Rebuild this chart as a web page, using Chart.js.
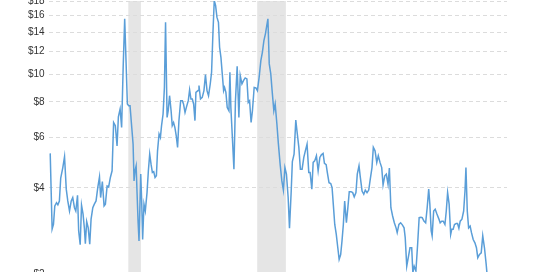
<!DOCTYPE html>
<html>
<head>
<meta charset="utf-8">
<script src="https://cdn.jsdelivr.net/npm/chart.js@4.4.1/dist/chart.umd.min.js"></script>
<style>
html,body{margin:0;padding:0;background:#fff;overflow:hidden;}
#wrap{position:absolute;left:0;top:-9px;width:540px;height:293px;}
</style>
</head>
<body>
<div id="wrap"><canvas id="canvas"></canvas></div>
<script>
// natural gas price (inflation adjusted)
const years=[1997.08,1997.18,1997.25,1997.32,1997.41,1997.48,1997.56,1997.63,1997.74,1997.83,1997.92,
1998.00,1998.09,1998.18,1998.26,1998.35,1998.42,1998.51,1998.57,1998.65,1998.72,1998.80,1998.87,1998.92,1998.99,
1999.07,1999.15,1999.22,1999.31,1999.39,1999.48,1999.57,1999.66,1999.72,1999.81,1999.90,1999.97,
2000.06,2000.14,2000.23,2000.32,2000.40,2000.49,2000.58,2000.65,2000.74,2000.82,2000.90,2000.98,
2001.05,2001.12,2001.19,2001.26,2001.35,2001.42,2001.47,2001.52,2001.58,2001.63,2001.68,2001.73,2001.82,2001.87,2001.92,2001.99,
2002.06,2002.15,2002.22,2002.29,2002.36,2002.43,2002.50,2002.57,2002.64,2002.70,2002.78,2002.85,2002.91,2002.99,
2003.06,2003.12,2003.20,2003.26,2003.33,2003.41,2003.47,2003.54,2003.61,2003.68,2003.75,2003.82,2003.91,
2004.00,2004.06,2004.14,2004.22,2004.31,2004.38,2004.45,2004.52,2004.59,2004.66,2004.71,2004.82,2004.87,2004.95,
2005.04,2005.13,2005.21,2005.29,2005.37,2005.46,2005.53,2005.60,2005.67,2005.74,2005.81,2005.89,2005.95,
2006.02,2006.09,2006.16,2006.21,2006.28,2006.35,2006.44,2006.49,2006.54,2006.61,2006.70,2006.78,2006.87,2006.96,
2007.03,2007.12,2007.20,2007.29,2007.38,2007.45,2007.52,2007.60,2007.67,2007.76,2007.85,2007.93,
2008.02,2008.11,2008.19,2008.27,2008.35,2008.42,2008.48,2008.55,2008.63,2008.70,2008.79,2008.86,2008.95,
2009.03,2009.12,2009.21,2009.29,2009.37,2009.45,2009.54,2009.61,2009.70,2009.76,2009.85,2009.94,
2010.02,2010.10,2010.18,2010.27,2010.36,2010.44,2010.53,2010.62,2010.69,2010.78,2010.85,2010.93,
2011.02,2011.11,2011.20,2011.28,2011.37,2011.44,2011.53,2011.59,2011.68,2011.77,2011.84,2011.91,2011.98,
2012.06,2012.14,2012.21,2012.29,2012.36,2012.43,2012.50,2012.59,2012.66,2012.74,2012.83,2012.92,
2013.00,2013.09,2013.16,2013.25,2013.32,2013.41,2013.50,2013.58,2013.67,2013.76,2013.84,2013.93,
2014.00,2014.09,2014.18,2014.26,2014.35,2014.44,2014.51,2014.60,2014.68,2014.77,2014.84,2014.92,
2015.01,2015.10,2015.19,2015.25,2015.34,2015.43,2015.52,2015.61,2015.67,2015.75,2015.83,2015.92,
2016.01,2016.07,2016.14,2016.23,2016.32,2016.40,2016.49,2016.56,2016.65,2016.74,2016.82,2016.90,2016.96,
2017.03,2017.08,2017.16,2017.24,2017.33,2017.42,2017.50,2017.58,2017.66,2017.75,2017.82,2017.89,2017.97,
2018.05,2018.11,2018.18,2018.25,2018.34,2018.41,2018.48,2018.55,2018.64,2018.73,2018.80,2018.85,2018.92,2018.99,
2019.07,2019.14,2019.23,2019.32,2019.40,2019.47,2019.56,2019.65,2019.73,2019.82,2019.91,2019.96];
const prices=[5.28,2.87,2.98,3.46,3.55,3.49,3.60,4.33,4.71,5.14,3.96,
3.60,3.32,3.60,3.70,3.41,3.32,3.77,2.83,2.53,3.48,3.24,2.89,2.55,3.05,
2.90,2.54,3.11,3.41,3.51,3.60,4.01,4.37,3.70,4.21,3.46,3.51,
4.06,4.03,4.35,4.59,6.77,6.60,5.61,7.09,7.55,6.50,10.55,15.59,
11.14,7.86,7.75,7.75,6.50,5.69,4.23,4.59,4.78,3.80,3.06,2.61,4.47,3.60,2.64,3.51,
3.32,3.85,4.59,5.25,4.84,4.53,4.56,4.35,4.41,5.39,6.17,6.00,6.60,7.25,
8.98,15.17,7.05,7.44,8.40,7.44,6.60,6.77,6.50,6.08,5.54,6.87,8.07,
8.07,7.86,7.34,7.69,8.07,8.80,8.18,8.18,7.86,6.87,8.63,8.75,9.11,8.18,
8.29,8.75,9.95,8.75,8.40,9.23,10.14,13.82,18.07,17.36,15.80,15.17,12.40,
11.44,10.01,8.75,8.98,8.63,7.64,7.44,10.14,7.64,6.17,4.65,8.07,10.64,7.05,
9.87,9.23,9.48,9.69,9.61,7.96,8.07,6.77,7.44,8.98,8.94,8.75,
9.74,11.14,11.91,13.09,13.82,14.77,15.59,10.85,10.01,8.75,7.44,7.86,6.69,
5.69,4.84,4.23,3.93,4.71,4.47,3.70,2.89,3.90,4.94,5.25,6.90,
6.17,5.54,4.65,4.65,5.11,5.39,5.69,4.53,4.53,3.96,4.91,4.97,
5.18,4.59,5.11,5.22,5.28,4.87,4.82,4.53,4.17,4.14,4.01,3.46,2.98,
2.75,2.47,2.25,2.34,2.61,2.98,3.60,3.02,3.37,3.88,3.88,3.85,
3.72,3.85,4.47,4.78,4.35,3.90,3.80,3.93,3.85,3.93,4.29,4.71,
5.54,5.39,4.91,5.18,4.91,4.71,4.10,4.41,4.47,4.12,4.69,3.41,
3.19,3.02,2.90,2.79,2.98,3.02,2.97,2.90,2.68,2.13,2.28,2.47,
2.47,2.02,2.13,2.05,2.54,3.15,3.16,3.15,3.06,3.02,3.41,3.96,3.51,
2.83,2.72,3.32,3.37,3.24,3.13,3.02,3.06,3.06,2.98,3.32,3.85,3.51,
2.75,2.87,2.87,2.98,3.00,3.00,2.89,3.06,3.11,3.32,3.90,4.71,3.32,2.90,
2.94,2.79,2.64,2.57,2.47,2.28,2.34,2.37,2.72,2.47,2.16,1.98];
const recessionStart=[2001.17,2007.92];
const recessionEnd=[2001.83,2009.42];
const tickValues=[2,4,6,8,10,12,14,16,18];

const points=years.map((y,i)=>({x:y,y:prices[i]}));

const recessionBands={
    id:"recessionBands",
    beforeDraw(chart){
        const ctx=chart.ctx;
        const xs=chart.scales.x;
        const area=chart.chartArea;
        ctx.save();
        ctx.fillStyle="#e5e5e5";
        recessionStart.forEach((s,i)=>{
            const x1=xs.getPixelForValue(s);
            const x2=xs.getPixelForValue(recessionEnd[i]);
            ctx.fillRect(x1,area.top,x2-x1,area.bottom-area.top);
        });
        ctx.restore();
    }
};

new Chart(document.getElementById("canvas"),{
    type:"line",
    data:{
        datasets:[{
            data:points,
            borderColor:"#5a9ed8",
            borderWidth:1.5,
            pointRadius:0,
            tension:0,
            fill:false
        }]
    },
    options:{
        responsive:true,
        maintainAspectRatio:false,
        animation:false,
        layout:{padding:{left:24,right:33,top:0,bottom:0}},
        plugins:{legend:{display:false},tooltip:{enabled:false}},
        scales:{
            x:{type:"linear",min:1997,max:2021,display:false},
            y:{
                type:"logarithmic",
                min:2,
                max:18,
                afterBuildTicks(axis){
                    axis.ticks=tickValues.map(v=>({value:v}));
                },
                border:{display:false,dash:[4,3]},
                grid:{color:"#dcdcdc",drawTicks:false,lineWidth:1},
                ticks:{
                    padding:4,
                    color:"#333",
                    font:{family:"Arial",size:10},
                    callback:v=>"$"+v
                }
            }
        }
    },
    plugins:[recessionBands]
});
</script>
</body>
</html>
